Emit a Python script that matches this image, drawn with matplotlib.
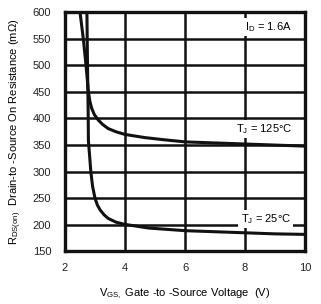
import matplotlib
matplotlib.use('Agg')
import matplotlib.pyplot as plt

plt.rcParams['font.family'] = ['Liberation Sans', 'DejaVu Sans']
plt.rcParams['mathtext.default'] = 'regular'

# Tj = 125C curve
v_125 = [2.5, 2.61, 2.70, 2.78, 2.83, 2.89, 2.98, 3.11, 3.25, 3.44, 3.7, 4.0, 4.67, 5.3, 6.0, 7.0, 8.0, 9.0, 10.0]
r_125 = [600, 550, 500, 450, 432, 419, 407, 397, 389, 381, 375, 370, 364, 360, 356, 354, 352, 350, 348]

# Tj = 25C curve
v_25 = [2.73, 2.75, 2.77, 2.78, 2.82, 2.86, 2.92, 3.0, 3.08, 3.17, 3.3, 3.44, 3.7, 3.98, 4.78, 6.0, 7.0, 8.0, 9.0, 10.0]
r_25 = [600, 500, 420, 358, 330, 300, 272, 250, 237, 228, 219, 212, 205, 201, 194, 189, 187, 185, 183, 182]

x_ticks = [2, 4, 6, 8, 10]
y_ticks = [150, 200, 250, 300, 350, 400, 450, 500, 550, 600]

fig = plt.figure(figsize=(3.21, 3.04), dpi=100)
axe = fig.add_axes([0.2025, 0.173, 0.748, 0.787])

axe.plot(v_125, r_125, color='#111111', lw=2.2, zorder=3, solid_joinstyle='round')
axe.plot(v_25, r_25, color='#111111', lw=2.2, zorder=3, solid_joinstyle='round')

axe.set_xlim(2, 10)
axe.set_ylim(150, 600)
axe.set_xticks(x_ticks)
axe.set_yticks(y_ticks)
axe.grid(True, color='#111111', lw=1.8)
axe.set_axisbelow(True)
for s in axe.spines.values():
    s.set_linewidth(2.4)
    s.set_color('#111111')
axe.tick_params(length=0, labelsize=8, pad=8, colors='#222222')
axe.tick_params(axis='y', pad=10)

bb = dict(facecolor='white', edgecolor='none', pad=1.5)
axe.text(8.0, 572, '$I_D$ = 1.6A', fontsize=8, ha='left', va='center', bbox=bb, zorder=4)
axe.text(7.7, 380, '$T_J$ = 125°C', fontsize=8, ha='left', va='center', bbox=bb, zorder=4)
axe.text(7.85, 211, '$T_J$ = 25°C', fontsize=8, ha='left', va='center', bbox=bb, zorder=4)

axe.set_xlabel('$V_{GS,}$ Gate -to -Source Voltage  (V)', fontsize=8, labelpad=10)
axe.set_ylabel('$R_{DS(on)}$  Drain-to -Source On Resistance (m$\\Omega$)', fontsize=8, labelpad=6)

fig.savefig('out.png', dpi=100)
